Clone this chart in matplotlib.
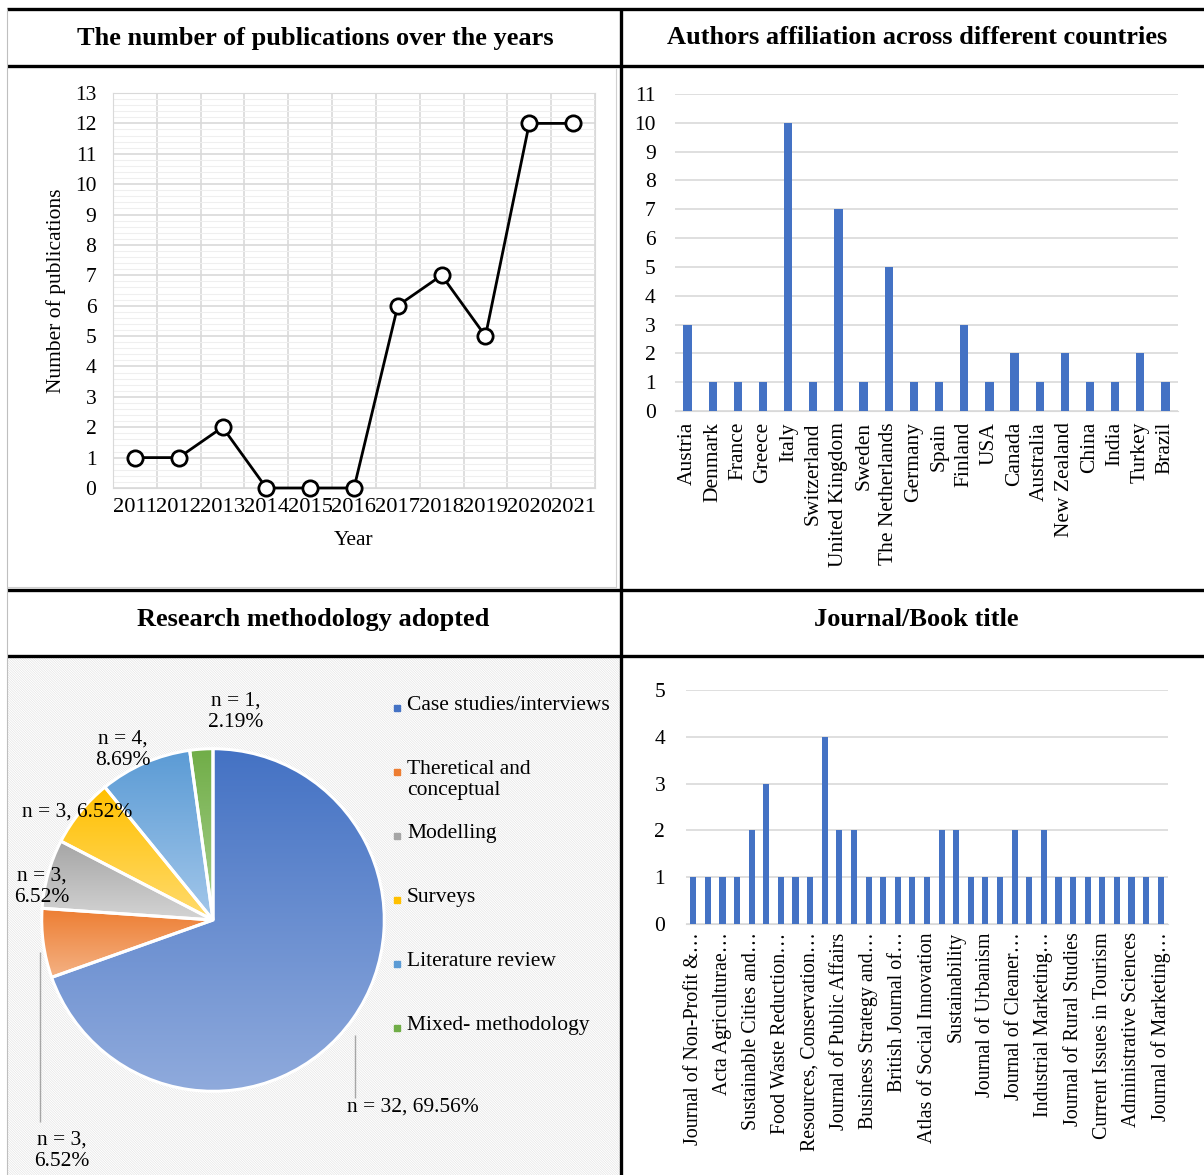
import numpy as np
import matplotlib
matplotlib.use("Agg")
import matplotlib.pyplot as plt
from matplotlib.lines import Line2D
from matplotlib.patches import Rectangle
from matplotlib.colors import to_rgb

# ---- data ----
years = [2011, 2012, 2013, 2014, 2015, 2016, 2017, 2018, 2019, 2020, 2021]
publications = [1, 1, 2, 0, 0, 0, 6, 7, 5, 12, 12]

countries = ["Austria", "Denmark", "France", "Greece", "Italy", "Switzerland",
             "United Kingdom", "Sweden", "The Netherlands", "Germany", "Spain",
             "Finland", "USA", "Canada", "Australia", "New Zealand", "China",
             "India", "Turkey", "Brazil"]
country_counts = [3, 1, 1, 1, 10, 1, 7, 1, 5, 1, 1, 3, 1, 2, 1, 2, 1, 1, 2, 1]

methods = ["Case studies/interviews", "Theretical and\nconceptual", "Modelling",
           "Surveys", "Literature review", "Mixed- methodology"]
method_counts = [32, 3, 3, 3, 4, 1]
method_pcts = ["69.56%", "6.52%", "6.52%", "6.52%", "8.69%", "2.19%"]

journal_counts = [1, 1, 1, 1, 2, 3, 1, 1, 1, 4, 2, 2, 1, 1, 1, 1, 1,
                  2, 2, 1, 1, 1, 2, 1, 2, 1, 1, 1, 1, 1, 1, 1, 1]
journal_labels = ["Journal of Non-Profit &…", "Acta Agriculturae…",
                  "Sustainable Cities and…", "Food Waste Reduction…",
                  "Resources, Conservation…", "Journal of Public Affairs",
                  "Business Strategy and…", "British Journal of…",
                  "Atlas of Social Innovation", "Sustainability",
                  "Journal of Urbanism", "Journal of Cleaner…",
                  "Industrial Marketing…", "Journal of Rural Studies",
                  "Current Issues in Tourism", "Administrative Sciences",
                  "Journal of Marketing…"]

# ---- style ----
plt.rcParams['font.family'] = ['Liberation Serif', 'DejaVu Serif']
plt.rcParams['hatch.linewidth'] = 0.4
plt.rcParams['hatch.color'] = '#e0e0e0'

W, H = 1204, 1175
FS = 15.5
BLUE = '#4472C4'
GRID = '#d9d9d9'

fig = plt.figure(figsize=(W / 100, H / 100), dpi=100)


def px_rect(x0, y0, x1, y1):
    return [x0 / W, 1 - y1 / H, (x1 - x0) / W, (y1 - y0) / H]


def fx(x):
    return x / W


def fy(y):
    return 1 - y / H


def hline(y, x0, x1, lw=2.4, color='black'):
    fig.add_artist(Line2D([fx(x0), fx(x1)], [fy(y), fy(y)], lw=lw, color=color,
                          transform=fig.transFigure, solid_capstyle='butt'))


def vline(x, y0, y1, lw=2.4, color='black'):
    fig.add_artist(Line2D([fx(x), fx(x)], [fy(y0), fy(y1)], lw=lw, color=color,
                          transform=fig.transFigure, solid_capstyle='butt'))


# ---- bottom-left hatched background (drawn first) ----
bg = fig.add_axes(px_rect(8, 657, 620, 1175))
bg.set_xlim(0, 1)
bg.set_ylim(0, 1)
bg.axis('off')
bg.add_patch(Rectangle((0, 0), 1, 1, transform=bg.transAxes, facecolor='white',
                       edgecolor='#e0e0e0', hatch='\\' * 14, lw=0, zorder=0))

# ---- table borders ----
hline(9, 7, 1204)
hline(66, 7, 1204)
hline(590, 7, 1204)
hline(656, 7, 1204)
vline(621, 8, 1175)
vline(7, 9, 1175, lw=0.8, color='#bfbfbf')
vline(616, 68, 588, lw=0.8, color='#d0d0d0')
hline(587, 7, 616, lw=0.8, color='#d0d0d0')

# titles
title_kw = dict(fontsize=19, fontweight='bold', ha='center', va='center')
fig.text(fx(315), fy(38), "The number of publications over the years", **title_kw)
fig.text(fx(917), fy(38), "Authors affiliation across different countries", **title_kw)
fig.text(fx(313), fy(619), "Research methodology adopted", **title_kw)
fig.text(fx(916), fy(619), "Journal/Book title", **title_kw)

# ---- top-left: line chart ----
ax1 = fig.add_axes(px_rect(113, 93, 595, 488))
x = np.arange(len(years))
ax1.plot(x, publications, color='black', lw=2, marker='o', markersize=11,
         markerfacecolor='white', markeredgecolor='black', markeredgewidth=2,
         zorder=5, clip_on=False)
ax1.set_xlim(-0.5, len(years) - 0.5)
ax1.set_ylim(0, 13)
ax1.set_xticks(x)
ax1.set_xticklabels([str(y) for y in years], fontsize=16.2)
ax1.set_xticks(np.arange(-0.5, len(years)), minor=True)
ax1.set_yticks(range(0, 14))
ax1.set_yticks(np.arange(0, 13.01, 0.2), minor=True)
ax1.grid(axis='y', which='minor', color='#efefef', lw=0.8)
ax1.grid(axis='y', which='major', color=GRID, lw=1.2)
ax1.grid(axis='x', which='minor', color=GRID, lw=1.2)
ax1.tick_params(which='both', length=0)
ax1.tick_params(axis='y', pad=12, labelsize=FS)
ax1.tick_params(axis='x', pad=7)
for s in ax1.spines.values():
    s.set_color(GRID)
ax1.set_axisbelow(True)
ax1.set_xlabel("Year", fontsize=FS, labelpad=10)
ax1.set_ylabel("Number of publications", fontsize=FS, labelpad=6)

# ---- top-right: countries ----
ax2 = fig.add_axes(px_rect(675, 94, 1178, 411))
xc = np.arange(len(countries))
ax2.bar(xc, country_counts, width=0.33, color=BLUE, zorder=3)
ax2.set_xlim(-0.5, len(countries) - 0.5)
ax2.set_ylim(0, 11)
ax2.set_yticks(range(0, 12))
ax2.set_xticks(xc)
ax2.set_xticklabels(countries, rotation=90)
ax2.grid(axis='y', color=GRID, lw=1.2)
ax2.set_axisbelow(True)
for k in ['top', 'right', 'left']:
    ax2.spines[k].set_visible(False)
ax2.spines['bottom'].set_color(GRID)
ax2.tick_params(length=0, labelsize=FS)
ax2.tick_params(axis='y', pad=14)
ax2.tick_params(axis='x', pad=8)

# ---- bottom-right: journals ----
ax4 = fig.add_axes(px_rect(686, 690, 1168, 924))
xj = np.arange(len(journal_counts))
ax4.bar(xj, journal_counts, width=0.42, color=BLUE, zorder=3)
ax4.set_xlim(-0.5, len(journal_counts) - 0.5)
ax4.set_ylim(0, 5)
ax4.set_yticks(range(0, 6))
ax4.set_xticks(xj[::2])
ax4.set_xticklabels(journal_labels, rotation=90, fontsize=14.4)
ax4.grid(axis='y', color=GRID, lw=1.2)
ax4.set_axisbelow(True)
for k in ['top', 'right', 'left']:
    ax4.spines[k].set_visible(False)
ax4.spines['bottom'].set_color(GRID)
ax4.tick_params(length=0)
ax4.tick_params(axis='y', pad=15, labelsize=FS)
ax4.tick_params(axis='x', pad=6)

# ---- bottom-left: pie ----
pie_cols = [('#4472C4', '#8FAADC'), ('#ED7D31', '#F4B183'), ('#A5A5A5', '#D4D4D4'),
            ('#FFC000', '#FFDB6E'), ('#5B9BD5', '#A3C7EA'), ('#70AD47', '#A9D18E')]
ax3 = fig.add_axes(px_rect(40, 747, 386, 1093))
ax3.set_facecolor('none')
wedges, _ = ax3.pie(method_counts, startangle=90, counterclock=False, radius=1,
                    colors=[c[0] for c in pie_cols],
                    wedgeprops=dict(edgecolor='white', linewidth=2.2))
for w, (c0, c1) in zip(wedges, pie_cols):
    ext = w.get_path().get_extents()
    t = np.linspace(0, 1, 128)[:, None]
    grad = (1 - t) * np.array(to_rgb(c0)) + t * np.array(to_rgb(c1))
    im = ax3.imshow(grad[:, None, :], extent=(ext.x0, ext.x1, ext.y0, ext.y1),
                    origin='upper', aspect='auto', zorder=1, interpolation='bilinear')
    im.set_clip_path(w)
    w.set_facecolor('none')
    w.set_zorder(2)
ax3.set_xlim(-1.01, 1.01)
ax3.set_ylim(-1.01, 1.01)
ax3.set_aspect('equal')
ax3.axis('off')

# pie data labels
lab_kw = dict(fontsize=FS, ha='center', va='center', linespacing=1.15)
lab_pos = [(413, 1107, False), (62, 1151, True), (42, 887, True),
           (77, 812, False), (123, 750, True), (236, 712, True)]
for (px, py, two), n, p in zip(lab_pos, method_counts, method_pcts):
    sep = ",\n" if two else ", "
    fig.text(fx(px), fy(py), f"n = {n}{sep}{p}", **lab_kw)
vline(355, 1035, 1098, lw=1.0, color='#a6a6a6')
vline(40, 952, 1122, lw=1.0, color='#a6a6a6')

# legend
for i, (m, c) in enumerate(zip(methods, pie_cols)):
    ly = 708 + 64 * i
    fig.add_artist(Line2D([fx(397)], [fy(ly)], marker='s', markersize=4.5,
                          color=c[0], transform=fig.transFigure, lw=0))
    fig.text(fx(407), fy(ly - 12), m, fontsize=FS, ha='left', va='top', linespacing=1.15)

fig.savefig("out.png", dpi=100)
